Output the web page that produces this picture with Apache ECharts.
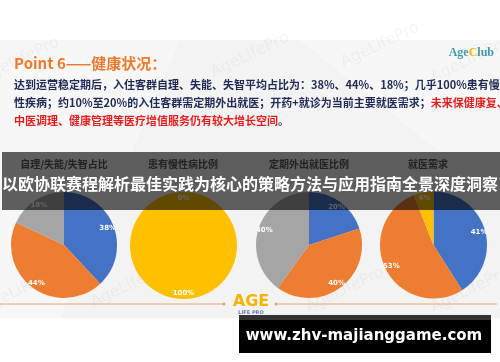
<!DOCTYPE html>
<html><head><meta charset="utf-8">
<script src="https://cdn.jsdelivr.net/npm/echarts@6/dist/echarts.min.js"></script>
<style>html,body{margin:0;padding:0;background:#fff}#c{width:500px;height:362px}</style>
</head><body><div id="c"></div>
<script>
// ---- data ----
const pieTitles = ['自理/失能/失智占比', '患有慢性病比例', '定期外出就医比例', '就医需求'];
const pie1Names = ['自理', '失能', '失智'];
const pie1Values = [38, 44, 18];
const pie2Names = ['无慢性病', '患有慢性病'];
const pie2Values = [0, 100];
const pie3Names = ['经常外出就医', '定期外出就医', '无需外出就医'];
const pie3Values = [20, 40, 40];
const pie4Names = ['开药', '就诊', '康复', '其他'];
const pie4Values = [41, 53, 0, 6];
const headline = 'Point 6——健康状况：';
const bannerText = '以欧协联赛程解析最佳实践为核心的策略方法与应用指南全景深度洞察';
const footerText = 'www.zhv-majianggame.com';

// ---- styles / layout ----
const C = {blue:'#4472C4', orange:'#ED7D31', grey:'#A5A5A5', yellow:'#FFC000'};
const pies = [
  {names: pie1Names, values: pie1Values, colors: [C.blue, C.orange, C.grey], center: [64, 245], r: 53},
  {names: pie2Names, values: pie2Values, colors: [C.blue, C.yellow], center: [183.5, 245.5], r: 53.5},
  {names: pie3Names, values: pie3Values, colors: [C.blue, C.orange, C.grey], center: [309, 245], r: 53},
  {names: pie4Names, values: pie4Values, colors: [C.blue, C.orange, C.grey, C.yellow], center: [433.5, 245], r: 53.5}
];
const titleX = [64, 183, 309, 428];
const CJK = '"Noto Sans CJK SC", "Noto Sans", sans-serif';

const series = [];
pies.forEach(p => {
  const data = p.names.map((n, k) => ({name: n, value: p.values[k], itemStyle: {color: p.colors[k]}}));
  series.push({
    type: 'pie', center: p.center, radius: [0, p.r], data: data, silent: true, animation: false,
    label: {show: false}, labelLine: {show: false}, itemStyle: {borderWidth: 0}, z: 2
  });
  series.push({
    type: 'pie', center: p.center, radius: [p.r * 0.66, p.r], silent: true, animation: false,
    data: data.map(d => ({name: d.name, value: d.value, itemStyle: {color: 'rgba(0,0,0,0)'}})),
    label: {show: true, position: 'inside', formatter: '{c}%', color: '#fff', fontSize: 7,
            fontWeight: 'bold', fontFamily: 'DejaVu Sans'},
    labelLine: {show: false}, itemStyle: {borderWidth: 0}, z: 3
  });
});

const body = {fontSize: 11, fontWeight: 'bold', fontFamily: CJK, fill: '#1F2A55'};
const red = Object.assign({}, body, {fill: '#E21F1F'});

const graphic = [
  {type: 'rect', shape: {x: 0, y: 40, width: 500, height: 278}, style: {fill: '#F3F3F3'}, z: 0, silent: true},
  {type: 'polygon', shape: {points: [[0, 40], [180, 40], [60, 318], [0, 318]]}, style: {fill: 'rgba(255,255,255,0.35)'}, z: 0, silent: true},
  {type: 'polygon', shape: {points: [[300, 40], [500, 40], [500, 200]]}, style: {fill: 'rgba(255,255,255,0.35)'}, z: 0, silent: true},
];
// watermarks
[[20, 60], [250, 55], [380, 45], [470, 60], [20, 290], [130, 285], [345, 290], [470, 290]].forEach(pt => {
  graphic.push({type: 'text', x: pt[0], y: pt[1], rotation: 0.45, z: 1, silent: true,
    style: {text: 'AgeLifePro', fontSize: 16, fontFamily: 'DejaVu Sans', fill: 'rgba(190,190,190,0.16)',
            textAlign: 'center', textVerticalAlign: 'middle'}});
});
graphic.push(
  {type: 'text', x: 14, y: 63, z: 5, style: {text: headline, fontSize: 15, fontWeight: 'bold', fontFamily: CJK,
    fill: '#EC7A2C', textVerticalAlign: 'middle'}},
  {type: 'text', x: 494, y: 53, z: 5, style: {text: '{a|Age}{b|C}{a|lub}', textAlign: 'right', textVerticalAlign: 'middle',
    rich: {a: {fontSize: 12, fontWeight: 'bold', fontFamily: 'Liberation Serif', fill: '#3D9BA8'},
           b: {fontSize: 12, fontWeight: 'bold', fontFamily: 'Liberation Serif', fill: '#F5B800'}}}},
  {type: 'text', x: 14, y: 85, z: 5, style: {text: '{a|达到运营稳定期后，入住客群自理、失能、失智平均占比为：38%、44%、18%；几乎100%患有慢}',
    textVerticalAlign: 'middle', rich: {a: body}}},
  {type: 'text', x: 14, y: 103, z: 5, style: {text: '{a|性疾病；约10%至20%的入住客群需定期外出就医；开药+就诊为当前主要就医需求；}{r|未来保健康复、}',
    textVerticalAlign: 'middle', rich: {a: body, r: red}}},
  {type: 'text', x: 14, y: 121, z: 5, style: {text: '{r|中医调理、健康管理等医疗增值服务仍有较大增长空间}{a|。}',
    textVerticalAlign: 'middle', rich: {a: body, r: red}}}
);
pieTitles.forEach((t, i) => {
  graphic.push({type: 'text', x: titleX[i], y: 164, z: 5, style: {text: t, fontSize: 10, fontWeight: 'bold',
    fontFamily: CJK, fill: '#595959', textAlign: 'center', textVerticalAlign: 'middle'}});
});
graphic.push(
  {type: 'line', shape: {x1: 0, y1: 304, x2: 224, y2: 304}, style: {stroke: '#EFA06A', lineWidth: 1}, z: 5},
  {type: 'line', shape: {x1: 276, y1: 304, x2: 497, y2: 304}, style: {stroke: '#EFA06A', lineWidth: 1}, z: 5},
  {type: 'circle', shape: {cx: 224, cy: 304, r: 1.5}, style: {fill: '#EFA06A'}, z: 5},
  {type: 'circle', shape: {cx: 276, cy: 304, r: 1.5}, style: {fill: '#EFA06A'}, z: 5},
  {type: 'text', x: 251, y: 302, z: 5, style: {text: 'AGE', fontSize: 16, fontWeight: 'bold', fontFamily: 'DejaVu Sans',
    fill: '#F4B400', textAlign: 'center', textVerticalAlign: 'middle'}},
  {type: 'text', x: 251, y: 313, z: 5, style: {text: 'LIFE PRO', fontSize: 5, fontWeight: 'bold', fontFamily: 'DejaVu Sans',
    fill: '#6A7BB0', textAlign: 'center', textVerticalAlign: 'middle'}},
  {type: 'rect', shape: {x: 2, y: 152, width: 498, height: 58}, style: {fill: 'rgba(0,0,0,0.62)'}, z: 10, silent: true},
  {type: 'text', x: 250, y: 184, z: 11, style: {text: bannerText, fontSize: 16, fontWeight: 'bold', fontFamily: CJK,
    fill: '#fff', textAlign: 'center', textVerticalAlign: 'middle'}},
  {type: 'rect', shape: {x: 239, y: 315, width: 252, height: 5}, style: {fill: '#333'}, z: 10},
  {type: 'rect', shape: {x: 239, y: 320, width: 252, height: 33}, style: {fill: '#000'}, z: 10},
  {type: 'text', x: 364, y: 336, z: 11, style: {text: footerText, fontSize: 15, fontWeight: 'bold', fontFamily: 'DejaVu Sans',
    fill: '#fff', textAlign: 'center', textVerticalAlign: 'middle'}}
);

const chart = echarts.init(document.getElementById('c'), null, {renderer: 'canvas'});
chart.setOption({backgroundColor: '#fff', animation: false, series: series, graphic: graphic});
</script></body></html>
